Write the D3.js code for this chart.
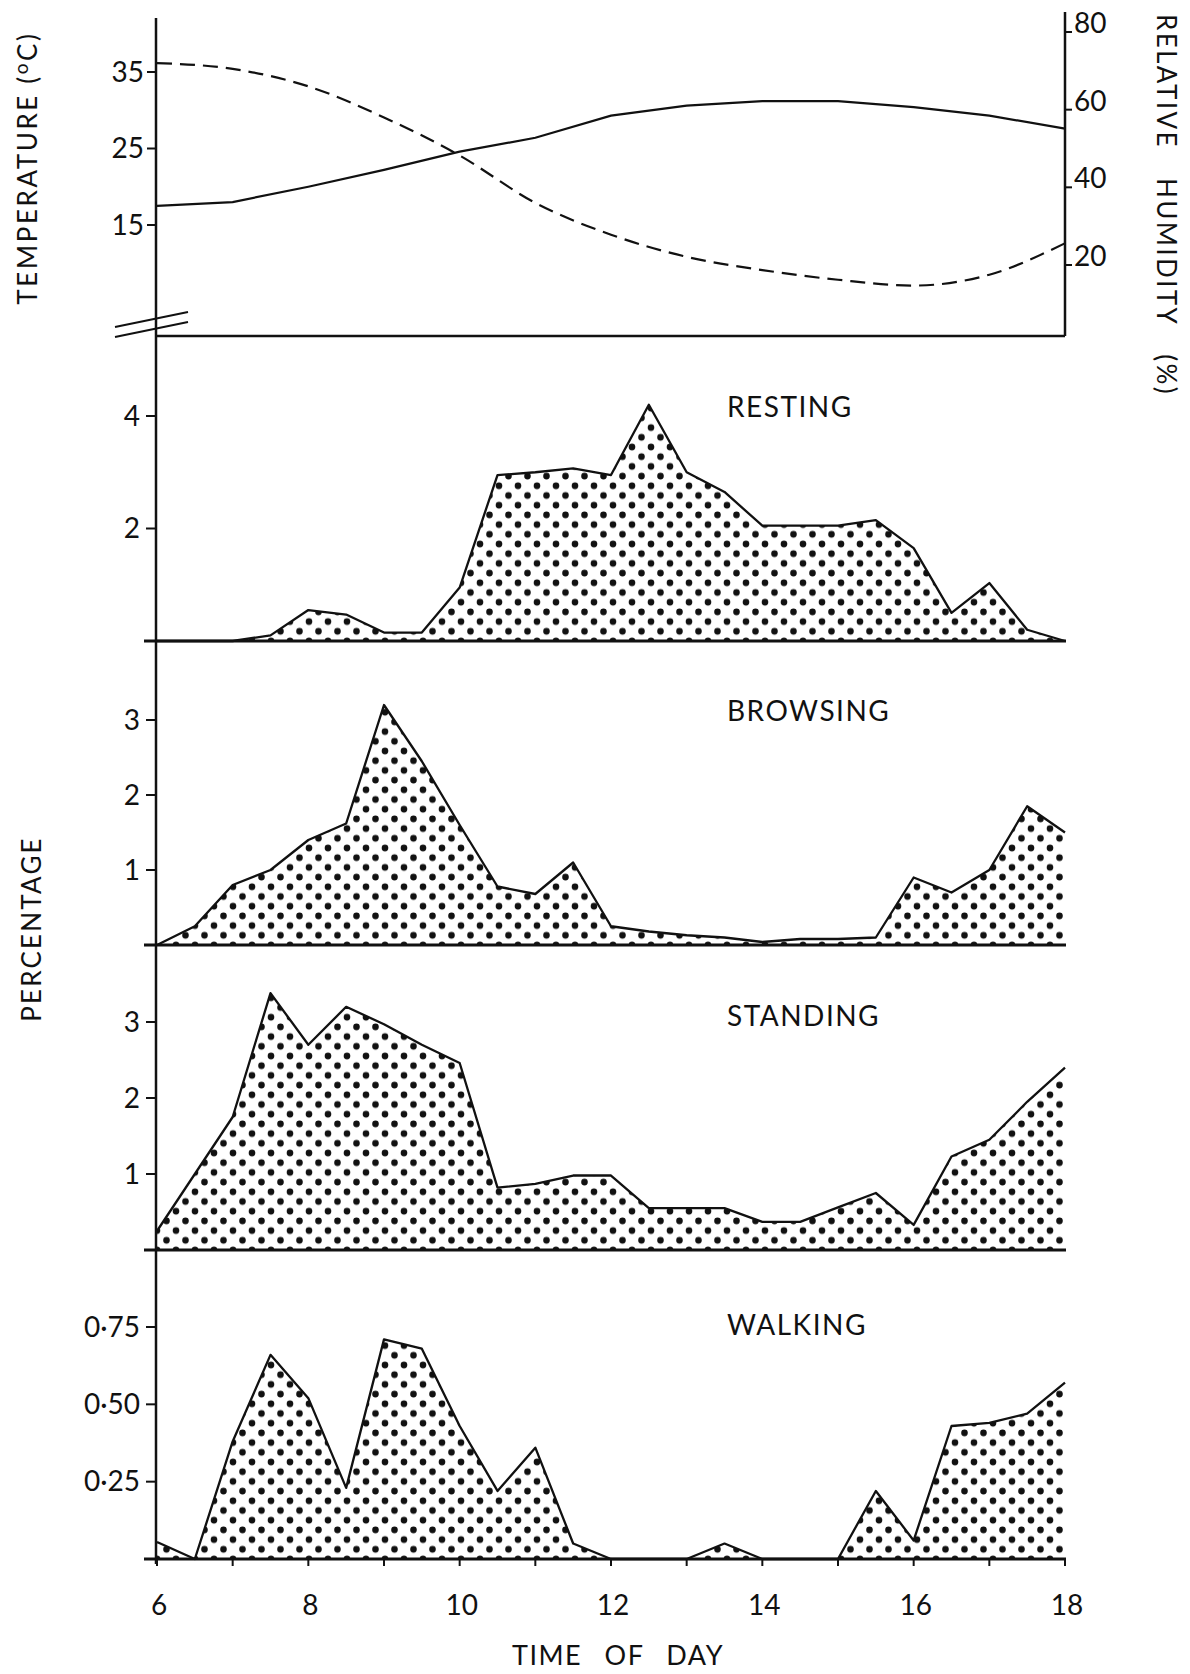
<!DOCTYPE html>
<html>
<head>
<script src="https://d3js.org/d3.v7.min.js"></script>
<style>
  body { margin: 0; background: #ffffff; }
  text { font-family: Lato, "Open Sans", sans-serif; fill: #111; }
</style>
</head>
<body>
<svg id="chart" width="1190" height="1674"></svg>
<script>
const svg = d3.select('#chart');

// ---- data ----
// hourly weather readings
const hours = [6, 7, 8, 9, 10, 11, 12, 13, 14, 15, 16, 17, 18];
const temperature = [17.5, 18.0, 20.0, 22.2, 24.6, 26.4, 29.3, 30.6, 31.2, 31.2, 30.4, 29.3, 27.6];
const humidity = [72.0, 70.5, 66.0, 58.0, 48.2, 36.0, 27.8, 22.1, 18.7, 16.2, 14.7, 17.5, 25.6];

// half-hourly activity (percentage)
const halfHours = [6, 6.5, 7, 7.5, 8, 8.5, 9, 9.5, 10, 10.5, 11, 11.5, 12,
                   12.5, 13, 13.5, 14, 14.5, 15, 15.5, 16, 16.5, 17, 17.5, 18];
const resting = [0, 0, 0, 0.1, 0.55, 0.47, 0.15, 0.15, 0.95, 2.95, 3.0, 3.07, 2.95,
                 4.2, 3.0, 2.65, 2.05, 2.05, 2.05, 2.15, 1.65, 0.5, 1.03, 0.2, 0];
const browsing = [0, 0.25, 0.8, 1.0, 1.4, 1.62, 3.2, 2.45, 1.6, 0.78, 0.68, 1.1, 0.25,
                  0.18, 0.13, 0.1, 0.04, 0.08, 0.08, 0.1, 0.9, 0.7, 1.0, 1.85, 1.5];
const standing = [0.25, 1.0, 1.75, 3.38, 2.7, 3.2, 2.97, 2.7, 2.46, 0.82, 0.87, 0.98, 0.98,
                  0.55, 0.55, 0.55, 0.37, 0.37, 0.56, 0.75, 0.33, 1.23, 1.45, 1.95, 2.4];
const walking = [0.055, 0, 0.38, 0.66, 0.52, 0.23, 0.71, 0.68, 0.43, 0.22, 0.36, 0.05, 0,
                 0, 0, 0.05, 0, 0, 0, 0.22, 0.06, 0.43, 0.44, 0.47, 0.57];

const timeTicks = [6, 7, 8, 9, 10, 11, 12, 13, 14, 15, 16, 17, 18];
const tempTicks = [15, 25, 35];
const humTicks = [20, 40, 60, 80];

// ---- layout ----
const AXIS_X = 156;
const x = d3.scaleLinear().domain([6, 18]).range([157, 1065]);
const yTemp = d3.scaleLinear().domain([15, 35]).range([225, 72]);
const yHum = d3.scaleLinear().domain([20, 80]).range([265, 32]);
const TOP_BASE = 336;

const panels = [
  { name: 'RESTING', values: resting, max: 4, ticks: [2, 4], base: 641, top: 416, fmt: d3.format('d') },
  { name: 'BROWSING', values: browsing, max: 3, ticks: [1, 2, 3], base: 945, top: 720, fmt: d3.format('d') },
  { name: 'STANDING', values: standing, max: 3, ticks: [1, 2, 3], base: 1250, top: 1022, fmt: d3.format('d') },
  { name: 'WALKING', values: walking, max: 0.75, ticks: [0.25, 0.5, 0.75], base: 1559, top: 1327,
    fmt: d => d3.format('.2f')(d).replace('.', '\u00b7') }
];

const ink = '#111';

// dotted fill patterns, one per panel so a row of dots sits on each baseline
const defs = svg.append('defs');
panels.forEach((p, i) => {
  const pat = defs.append('pattern')
    .attr('id', 'dots' + i)
    .attr('patternUnits', 'userSpaceOnUse')
    .attr('width', 19)
    .attr('height', 19.4)
    .attr('patternTransform', `translate(${x(6)}, ${p.base})`);
  [[0, 0], [19, 0], [0, 19.4], [19, 19.4], [9.5, 9.7]].forEach(c => {
    pat.append('circle').attr('cx', c[0]).attr('cy', c[1]).attr('r', 3.3).attr('fill', ink);
  });
});

// ---- top panel: temperature and humidity ----
const tempLine = d3.line().x((d, i) => x(hours[i])).y(d => yTemp(d));
const humLine = d3.line().x((d, i) => x(hours[i])).y(d => yHum(d)).curve(d3.curveMonotoneX);

svg.append('path')
  .attr('d', tempLine(temperature))
  .attr('fill', 'none').attr('stroke', ink).attr('stroke-width', 2.2);

svg.append('path')
  .attr('d', humLine(humidity))
  .attr('fill', 'none').attr('stroke', ink).attr('stroke-width', 2.2)
  .attr('stroke-dasharray', '15,8');

// left temperature ticks
svg.selectAll('.ttick').data(tempTicks).enter().append('line')
  .attr('x1', AXIS_X - 9).attr('x2', AXIS_X)
  .attr('y1', d => yTemp(d)).attr('y2', d => yTemp(d))
  .attr('stroke', ink).attr('stroke-width', 2);
svg.selectAll('.tlab').data(tempTicks).enter().append('text')
  .attr('x', AXIS_X - 12).attr('y', d => yTemp(d))
  .attr('dy', '0.35em').attr('text-anchor', 'end')
  .attr('font-size', 28).text(d => d);

// right humidity axis
svg.append('line')
  .attr('x1', x(18)).attr('x2', x(18)).attr('y1', 12).attr('y2', TOP_BASE)
  .attr('stroke', ink).attr('stroke-width', 2.5);
svg.selectAll('.htick').data(humTicks).enter().append('line')
  .attr('x1', x(18)).attr('x2', x(18) + 7)
  .attr('y1', d => yHum(d)).attr('y2', d => yHum(d))
  .attr('stroke', ink).attr('stroke-width', 2);
svg.selectAll('.hlab').data(humTicks).enter().append('text')
  .attr('x', x(18) + 9).attr('y', d => yHum(d) + 1)
  .attr('font-size', 28).text(d => d);

// top panel bottom line and the axis break marks
svg.append('line')
  .attr('x1', AXIS_X).attr('x2', x(18)).attr('y1', TOP_BASE).attr('y2', TOP_BASE)
  .attr('stroke', ink).attr('stroke-width', 2.5);
[0, 10].forEach(off => {
  svg.append('line')
    .attr('x1', 115).attr('y1', 327 + off).attr('x2', 188).attr('y2', 312 + off)
    .attr('stroke', ink).attr('stroke-width', 2);
});

// ---- activity panels ----
panels.forEach((p, i) => {
  const y = d3.scaleLinear().domain([0, p.max]).range([p.base, p.top]);
  const pts = p.values.map((v, k) => ({ t: halfHours[k], v }));

  svg.append('path')
    .attr('d', d3.area().x(d => x(d.t)).y0(y(0)).y1(d => y(d.v))(pts))
    .attr('fill', `url(#dots${i})`);

  svg.append('path')
    .attr('d', d3.line().x(d => x(d.t)).y(d => y(d.v))(pts))
    .attr('fill', 'none').attr('stroke', ink).attr('stroke-width', 2.3)
    .attr('stroke-linejoin', 'round');

  // baseline
  svg.append('line')
    .attr('x1', AXIS_X - 12).attr('x2', x(18) + 1).attr('y1', p.base).attr('y2', p.base)
    .attr('stroke', ink).attr('stroke-width', 2.8);

  // ticks
  svg.selectAll('.ptick' + i).data(p.ticks).enter().append('line')
    .attr('x1', AXIS_X - 10).attr('x2', AXIS_X)
    .attr('y1', d => y(d)).attr('y2', d => y(d))
    .attr('stroke', ink).attr('stroke-width', 2);
  svg.selectAll('.plab' + i).data(p.ticks).enter().append('text')
    .attr('x', AXIS_X - 16).attr('y', d => y(d))
    .attr('dy', '0.35em').attr('text-anchor', 'end')
    .attr('font-size', 28).text(p.fmt);

  svg.append('text')
    .attr('x', 727).attr('y', p.base - 234)
    .attr('dy', '0.35em')
    .attr('font-size', 28).attr('letter-spacing', 1.5)
    .text(p.name);
});

// continuous left axis
svg.append('line')
  .attr('x1', AXIS_X).attr('x2', AXIS_X).attr('y1', 18).attr('y2', 1564)
  .attr('stroke', ink).attr('stroke-width', 2.5);

// x axis ticks and labels
const last = panels[panels.length - 1].base;
svg.selectAll('.xtick').data(timeTicks).enter().append('line')
  .attr('x1', d => x(d)).attr('x2', d => x(d))
  .attr('y1', last).attr('y2', last + 7)
  .attr('stroke', ink).attr('stroke-width', 2);
svg.selectAll('.xlab').data(timeTicks.filter(d => d % 2 === 0)).enter().append('text')
  .attr('x', d => x(d) + 2).attr('y', 1605)
  .attr('dy', '0.35em').attr('text-anchor', 'middle')
  .attr('font-size', 28).text(d => d);

// axis titles
svg.append('text')
  .attr('x', 618).attr('y', 1665)
  .attr('text-anchor', 'middle').attr('font-size', 27)
  .attr('letter-spacing', 1.5).attr('word-spacing', 14)
  .text('TIME OF DAY');

const tt = svg.append('text')
  .attr('transform', 'translate(37,168) rotate(-90)')
  .attr('text-anchor', 'middle').attr('font-size', 26).attr('letter-spacing', 2.6);
tt.append('tspan').text('TEMPERATURE (');
tt.append('tspan').attr('font-size', 19).attr('dy', -9).text('o');
tt.append('tspan').attr('dy', 9).text('C)');

svg.append('text')
  .attr('transform', 'translate(41,929) rotate(-90)')
  .attr('text-anchor', 'middle').attr('font-size', 26).attr('letter-spacing', 2.2)
  .text('PERCENTAGE');

svg.append('text')
  .attr('transform', 'translate(1157,205) rotate(90)')
  .attr('text-anchor', 'middle').attr('font-size', 26).attr('letter-spacing', 2.4)
  .attr('word-spacing', 20)
  .text('RELATIVE HUMIDITY (%)');
</script>
</body>
</html>
